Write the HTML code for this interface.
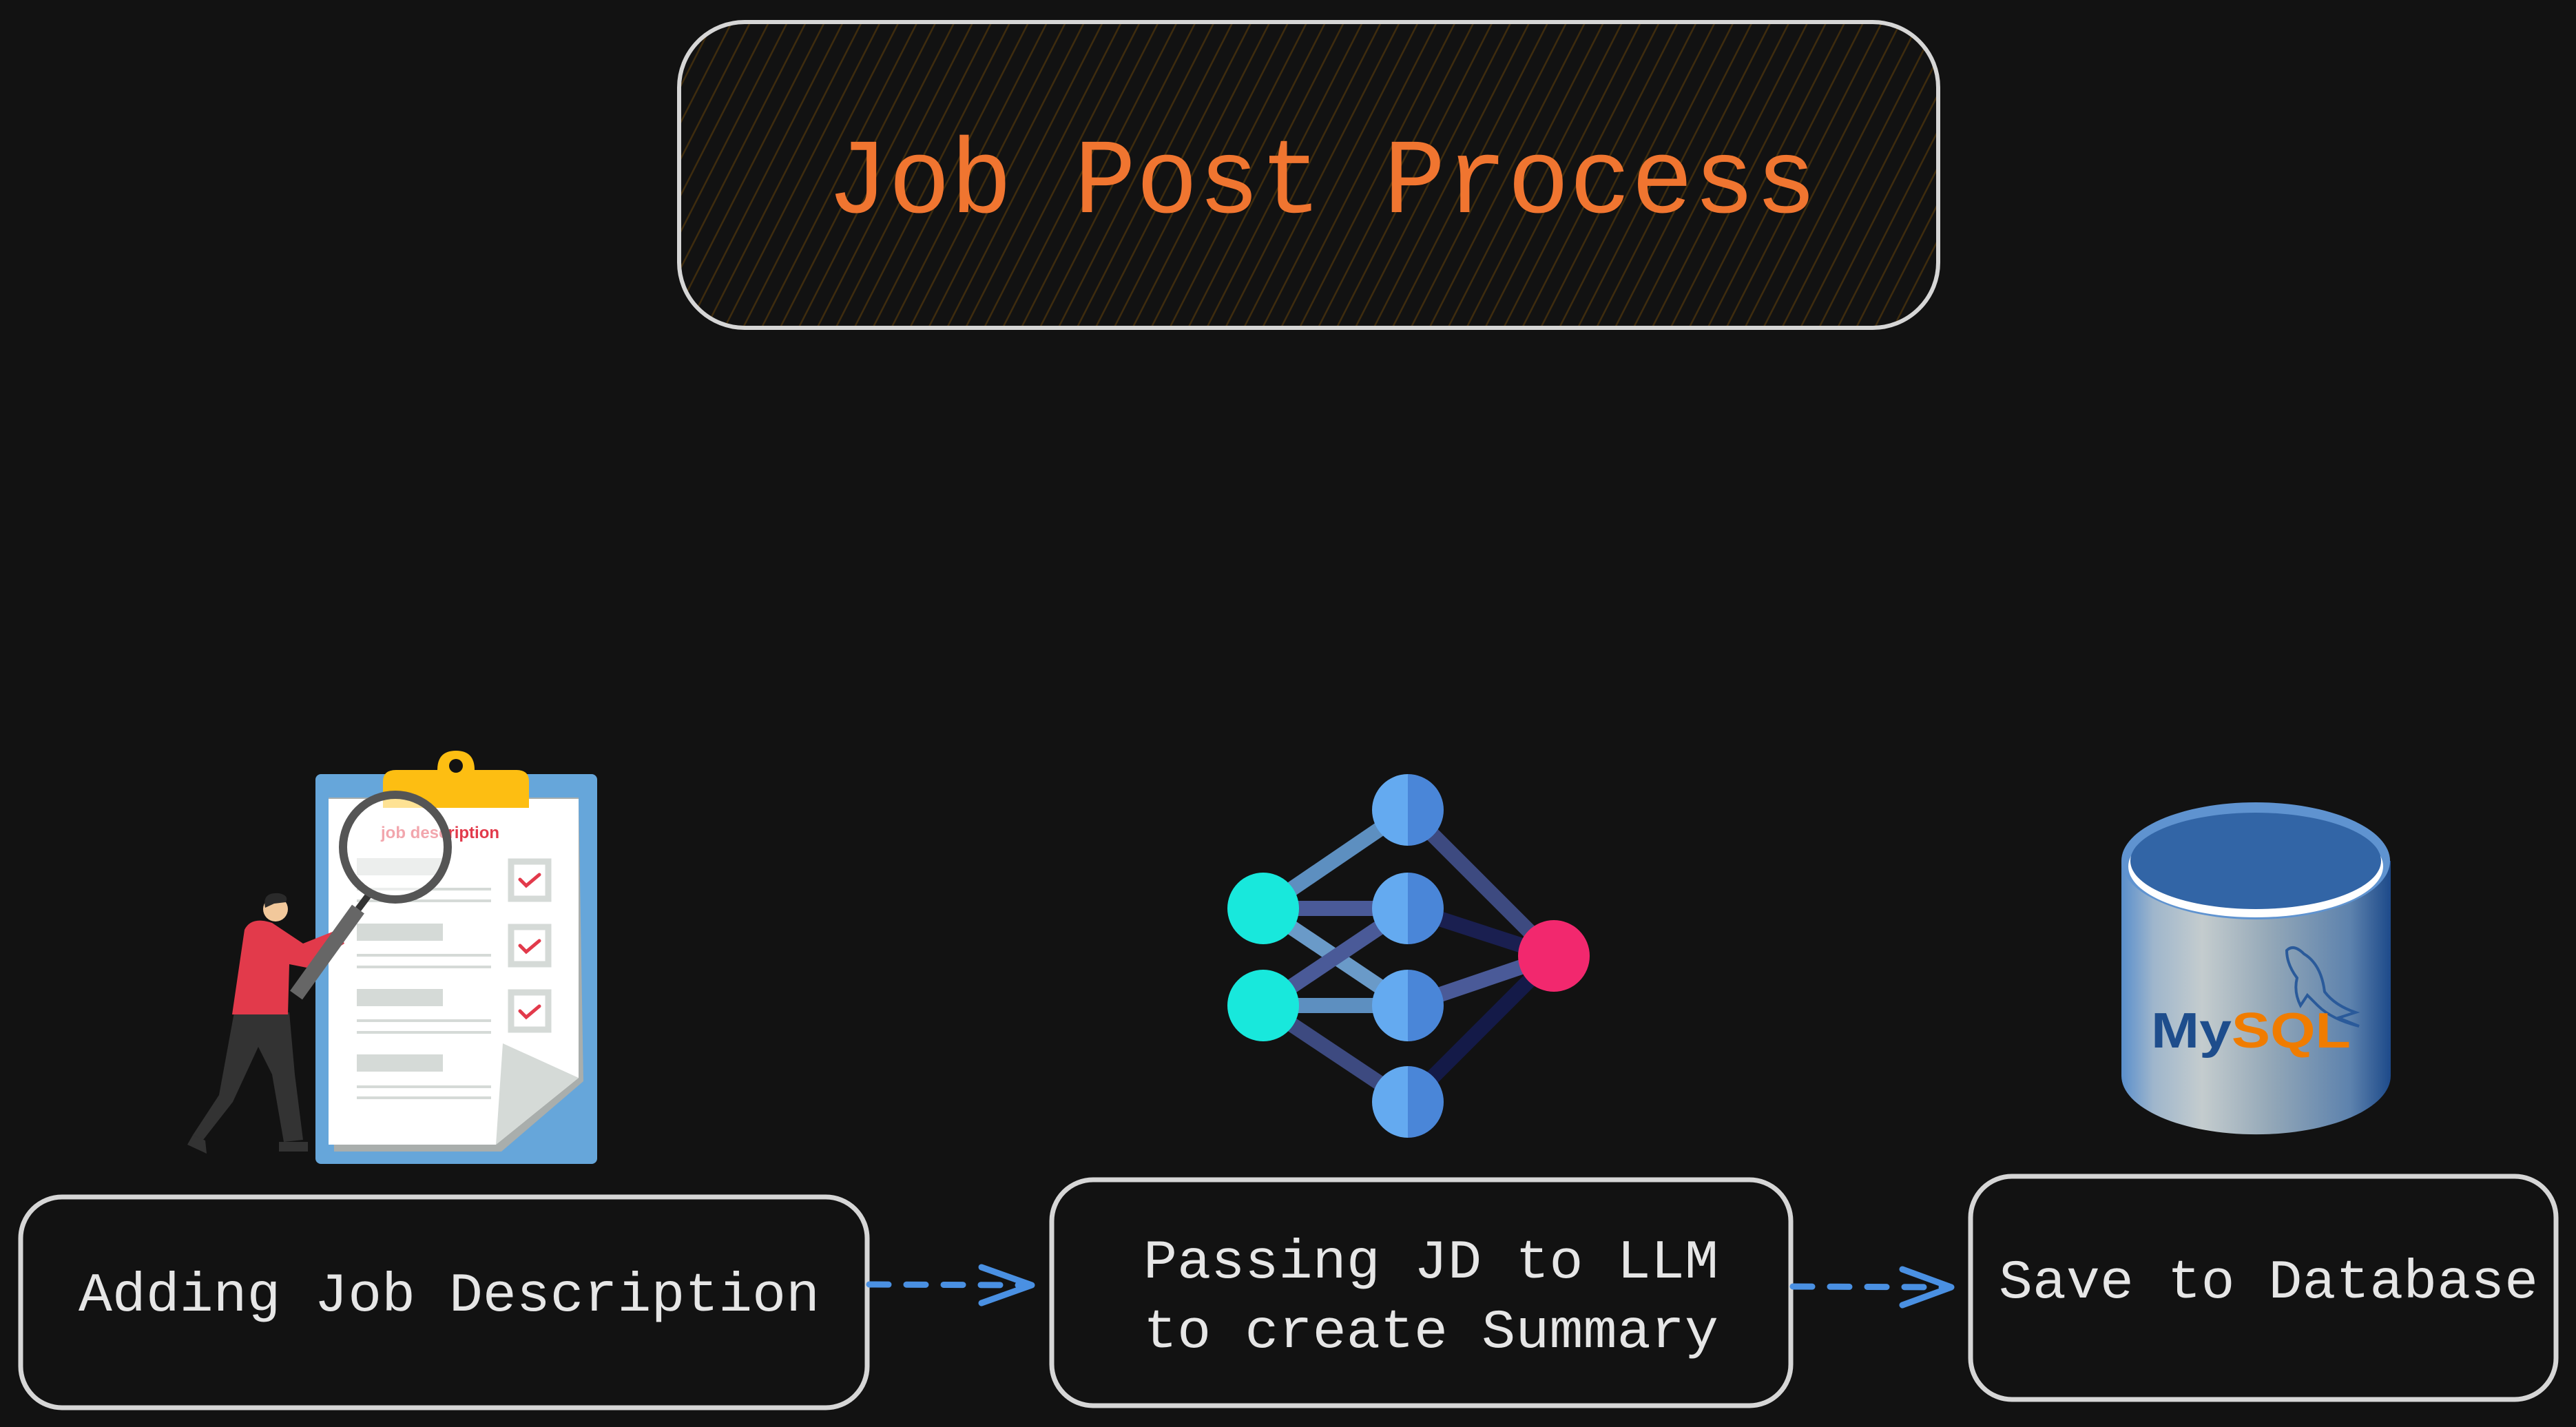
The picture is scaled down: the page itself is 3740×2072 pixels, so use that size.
<!DOCTYPE html>
<html><head><meta charset="utf-8"><style>
html,body{margin:0;padding:0;background:#121212;}
svg{display:block}
</style></head><body>
<svg width="3740" height="2072" viewBox="0 0 3740 2072" xmlns="http://www.w3.org/2000/svg">
<defs>
<pattern id="hatch" patternUnits="userSpaceOnUse" width="24" height="24" patternTransform="rotate(27)">
<line x1="0" y1="0" x2="0" y2="24" stroke="#3e2c0e" stroke-width="5"/>
</pattern>
<linearGradient id="cyl" x1="0" x2="1" y1="0" y2="0">
<stop offset="0" stop-color="#5a8fcc"/>
<stop offset="0.12" stop-color="#9fb6cc"/>
<stop offset="0.3" stop-color="#c4ccce"/>
<stop offset="0.55" stop-color="#94a8b8"/>
<stop offset="0.85" stop-color="#5d82ad"/>
<stop offset="1" stop-color="#1d4a8a"/>
</linearGradient>
<linearGradient id="hb" x1="0" x2="1"><stop offset="0.5" stop-color="#64aaf0"/><stop offset="0.5" stop-color="#4a86d8"/></linearGradient>
</defs>
<rect width="3740" height="2072" fill="#121212"/>

<rect x="986" y="32" width="1828" height="444" rx="95" fill="#121212"/>
<rect x="986" y="32" width="1828" height="444" rx="95" fill="url(#hatch)"/>
<rect x="986" y="32" width="1828" height="444" rx="95" fill="none" stroke="#d6d6d6" stroke-width="6"/>
<text x="1919" y="308" text-anchor="middle" font-family="Liberation Mono, monospace" font-size="155" fill="#f07530" textLength="1438" lengthAdjust="spacingAndGlyphs">Job Post Process</text>

<g fill="none" stroke="#d6d6d6" stroke-width="7">
<rect x="30" y="1738" width="1229" height="306" rx="60"/>
<rect x="1527" y="1713" width="1073" height="328" rx="60"/>
<rect x="2861" y="1708" width="850" height="324" rx="60"/>
</g>
<g font-family="Liberation Mono, monospace" font-size="80" fill="#e6e6e6">
<text x="114" y="1903" textLength="1076" lengthAdjust="spacingAndGlyphs">Adding Job Description</text>
<text x="1660" y="1855" textLength="835" lengthAdjust="spacingAndGlyphs">Passing JD to LLM</text>
<text x="1660" y="1956" textLength="835" lengthAdjust="spacingAndGlyphs">to create Summary</text>
<text x="2902" y="1884" textLength="783" lengthAdjust="spacingAndGlyphs">Save to Database</text>
</g>

<g stroke="#4a90e2" stroke-width="9" fill="none" stroke-linecap="round" stroke-linejoin="round">
<line x1="1262" y1="1865" x2="1490" y2="1866" stroke-dasharray="28 26"/>
<polyline points="1425,1840 1498,1866 1425,1892"/>
<line x1="2603" y1="1868" x2="2825" y2="1869" stroke-dasharray="28 26"/>
<polyline points="2762,1843 2833,1869 2762,1895"/>
</g>

<rect x="458" y="1124" width="409" height="566" rx="8" fill="#66a6da"/>
<polygon points="477,1158 840,1158 847,1570 728,1672 485,1672" fill="#a9aeac"/>
<polygon points="477,1160 840,1160 840,1565 720,1662 477,1662" fill="#ffffff"/>
<polygon points="730,1515 840,1565 720,1662" fill="#d5dad7"/>
<path d="M556,1173 L556,1135 Q556,1118 575,1118 L635,1118 Q635,1090 662,1090 Q689,1090 689,1118 L750,1118 Q768,1118 768,1135 L768,1173 Z" fill="#fdbe12"/>
<circle cx="662" cy="1112" r="10" fill="#121212"/>
<text x="553" y="1217" font-family="Liberation Sans, sans-serif" font-size="24" font-weight="bold" fill="#e23a4b">job description</text>
<g fill="#d5dad7">
<rect x="518" y="1246" width="125" height="25"/><rect x="518" y="1341" width="125" height="25"/>
<rect x="518" y="1436" width="125" height="25"/><rect x="518" y="1531" width="125" height="25"/>
<rect x="518" y="1289" width="195" height="4"/><rect x="518" y="1306" width="195" height="4"/>
<rect x="518" y="1385" width="195" height="4"/><rect x="518" y="1402" width="195" height="4"/>
<rect x="518" y="1480" width="195" height="4"/><rect x="518" y="1497" width="195" height="4"/>
<rect x="518" y="1576" width="195" height="4"/><rect x="518" y="1592" width="195" height="4"/>
</g>
<g fill="none" stroke="#d5dad7" stroke-width="9">
<rect x="742" y="1251" width="54" height="54"/><rect x="742" y="1346" width="54" height="54"/><rect x="742" y="1441" width="54" height="54"/>
</g>
<g fill="none" stroke="#e23a4b" stroke-width="5" stroke-linecap="round">
<polyline points="755,1277 764,1286 783,1270"/><polyline points="755,1373 764,1382 783,1366"/><polyline points="755,1468 764,1477 783,1461"/>
</g>
<path d="M340,1470 L420,1470 L428,1560 L440,1655 L412,1658 L395,1560 L375,1520 L338,1600 L295,1655 L280,1648 L318,1590 Z" fill="#333"/>
<polygon points="280,1648 298,1656 300,1675 272,1662" fill="#333"/>
<rect x="405" y="1658" width="42" height="14" fill="#333"/>
<path d="M355,1350 Q365,1330 395,1340 L440,1370 L490,1350 L500,1370 L445,1405 L420,1400 L418,1473 L337,1473 Z" fill="#e23a4b"/>
<circle cx="400" cy="1320" r="18" fill="#f2c89b"/>
<path d="M385,1318 Q380,1295 405,1297 Q420,1300 415,1310 L398,1312 Z" fill="#2a2a2a"/>
<line x1="430" y1="1445" x2="520" y2="1320" stroke="#666" stroke-width="22"/>
<line x1="520" y1="1320" x2="535" y2="1300" stroke="#333" stroke-width="10"/>
<circle cx="574" cy="1230" r="76" fill="#ffffff" fill-opacity="0.55" stroke="#555" stroke-width="12"/>

<g stroke-width="22">
<line x1="1834" y1="1319" x2="2044" y2="1176" stroke="#5d8fc0"/>
<line x1="1834" y1="1319" x2="2044" y2="1319" stroke="#4a5a98"/>
<line x1="1834" y1="1319" x2="2044" y2="1460" stroke="#6a9ac8"/>
<line x1="1834" y1="1460" x2="2044" y2="1319" stroke="#4a5a98"/>
<line x1="1834" y1="1460" x2="2044" y2="1460" stroke="#5d8fc0"/>
<line x1="1834" y1="1460" x2="2044" y2="1600" stroke="#3d4a80"/>
<line x1="2044" y1="1176" x2="2256" y2="1388" stroke="#3d4a80"/>
<line x1="2044" y1="1319" x2="2256" y2="1388" stroke="#1a1f50"/>
<line x1="2044" y1="1460" x2="2256" y2="1388" stroke="#4a5a98"/>
<line x1="2044" y1="1600" x2="2256" y2="1388" stroke="#141a48"/>
</g>
<circle cx="1834" cy="1319" r="52" fill="#18e8dc"/>
<circle cx="1834" cy="1460" r="52" fill="#18e8dc"/>
<circle cx="2044" cy="1176" r="52" fill="url(#hb)"/>
<circle cx="2044" cy="1319" r="52" fill="url(#hb)"/>
<circle cx="2044" cy="1460" r="52" fill="url(#hb)"/>
<circle cx="2044" cy="1600" r="52" fill="url(#hb)"/>
<circle cx="2256" cy="1388" r="52" fill="#f2286e"/>

<path d="M3080,1250 L3080,1562 A195,85 0 0 0 3471,1562 L3471,1250 Z" fill="url(#cyl)"/>
<ellipse cx="3275" cy="1250" rx="195" ry="85" fill="#5f93d0"/>
<ellipse cx="3275" cy="1258" rx="185" ry="74" fill="#ffffff"/>
<ellipse cx="3275" cy="1250" rx="182" ry="70" fill="#3265a6"/>
<path d="M3320,1380 Q3330,1370 3345,1385 Q3370,1400 3375,1440 Q3390,1460 3420,1470 L3395,1478 L3425,1490 Q3385,1480 3365,1460 L3350,1445 L3340,1460 Q3330,1440 3335,1420 Q3320,1400 3320,1380 Z" fill="none" stroke="#2a5a9a" stroke-width="4"/>
<text x="3123" y="1521" font-family="Liberation Sans, sans-serif" font-weight="bold" font-size="72" fill="#1e4d8c" textLength="290" lengthAdjust="spacingAndGlyphs">My<tspan fill="#f07c00">SQL</tspan></text>
</svg>
</body></html>
